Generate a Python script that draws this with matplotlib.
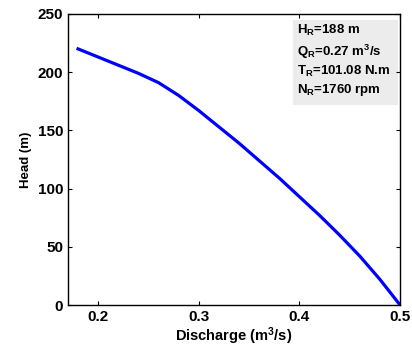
import matplotlib
matplotlib.use("Agg")
import matplotlib.pyplot as plt
from matplotlib.patches import Rectangle

discharge = [0.18, 0.20, 0.22, 0.24, 0.26, 0.28, 0.30, 0.32, 0.34, 0.36, 0.38, 0.40, 0.42, 0.44, 0.46, 0.48, 0.50]
head = [220, 213, 206, 199, 191, 180, 167, 153, 139, 124, 109, 93, 77, 60, 42, 22, 0]
xticks = [0.2, 0.3, 0.4, 0.5]
yticks = [0, 50, 100, 150, 200, 250]

plt.rcParams['font.family'] = ['Liberation Sans', 'DejaVu Sans']
plt.rcParams['font.weight'] = 'bold'
plt.rcParams['mathtext.fontset'] = 'custom'
plt.rcParams['mathtext.rm'] = 'Liberation Sans:bold'
plt.rcParams['mathtext.it'] = 'Liberation Sans:bold'
plt.rcParams['mathtext.bf'] = 'Liberation Sans:bold'

fig = plt.figure(figsize=(4.12, 3.58), dpi=100)
ax = fig.add_axes([0.165, 0.148, 0.806, 0.813])
ax.plot(discharge, head, color='#0000ff', lw=2.3)
ax.set_xlim(0.17, 0.5)
ax.set_ylim(0, 250)
ax.set_xticks(xticks)
ax.set_xticklabels([f"{v:.1f}" for v in xticks])
ax.set_yticks(yticks)
ax.tick_params(direction='in', top=True, right=True, labelsize=11, length=3, width=0.8)
for s in ax.spines.values():
    s.set_linewidth(1.0)
ax.set_xlabel('Discharge (m$^3$/s)', fontsize=10.5, fontweight='bold', labelpad=1)
ax.set_ylabel('Head (m)', fontsize=9.5, fontweight='bold', labelpad=4)

ax.add_patch(Rectangle((0.394, 172), 0.104, 73, facecolor='#ececec', edgecolor='none', zorder=1))
txt = ("H$_\\mathrm{R}$=188 m\n"
       "Q$_\\mathrm{R}$=0.27 m$^3$/s\n"
       "T$_\\mathrm{R}$=101.08 N.m\n"
       "N$_\\mathrm{R}$=1760 rpm")
ax.text(0.3975, 242, txt, fontsize=9.5, fontweight='bold', va='top', ha='left',
        linespacing=1.3, zorder=2)

fig.savefig('out.png', dpi=100)
